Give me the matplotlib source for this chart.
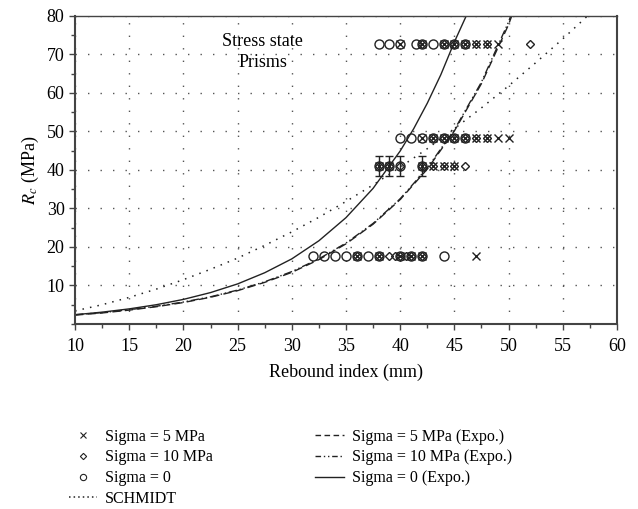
import numpy as np
import matplotlib
matplotlib.use("Agg")
import matplotlib.pyplot as plt
from matplotlib.ticker import MultipleLocator

plt.rcParams['font.family'] = ['Liberation Serif', 'DejaVu Serif']
plt.rcParams['mathtext.fontset'] = 'stix'

# -----------------------
# Data
# -----------------------
# scatter rows: R_c level and rebound indices per stress state
row_levels = [72.7, 48.3, 41.0, 17.7]

s0_x = [[38, 39, 40, 41.5, 42, 43, 44, 45, 46],
        [40, 41, 42, 43, 44, 45, 46],
        [38, 39, 40, 42],
        [32, 33, 34, 35, 36, 37, 38, 40, 41, 42, 44]]
s5_x = [[40, 42, 44, 45, 46, 47, 48, 49],
        [42, 43, 44, 45, 46, 47, 48, 49, 50],
        [38, 39, 42, 43, 44, 45],
        [36, 38, 40, 41, 42, 47]]
s10_x = [[42, 44, 45, 46, 47, 48, 52],
         [43, 44, 45, 46, 47, 48],
         [38, 39, 40, 42, 43, 44, 45, 46],
         [36, 38, 39, 39.5, 40, 40.5, 41, 42]]

# error bars on the 41 MPa row
err_x = [38, 39, 40, 42]
err_y = [41.0, 41.0, 41.0, 41.0]
err_e = [2.6, 2.6, 2.6, 2.6]

# exponential fit curves
fit0_x = [10, 12.5, 15, 17.5, 20, 22.5, 25, 27.5, 30, 32.5, 35, 37.5,
          40, 41.25, 42.5, 43.75, 45, 46.1]
fit0_y = [2.4, 3.07, 3.92, 5.0, 6.38, 8.15, 10.4, 13.3, 16.9, 21.6, 27.6,
          35.2, 44.9, 50.7, 57.3, 64.7, 73.2, 80.0]

fit5_x = [10, 12.5, 15, 17.5, 20, 22.5, 25, 27.5, 30, 32.5, 35, 37.5,
          40, 42.5, 45, 47.5, 50, 50.3]
fit5_y = [2.3, 2.86, 3.6, 4.48, 5.57, 6.94, 8.65, 10.8, 13.4, 16.7, 20.8,
          25.9, 32.3, 40.2, 50.1, 62.4, 77.7, 80.0]

fit10_x = [10, 12.5, 15, 17.5, 20, 22.5, 25, 27.5, 30, 32.5, 35, 37.5,
           40, 42.5, 45, 47.5, 50, 50.2]
fit10_y = [2.4, 2.95, 3.7, 4.6, 5.7, 7.05, 8.8, 10.95, 13.6, 16.9, 21.0,
           26.1, 32.5, 40.5, 50.4, 62.8, 78.4, 80.0]

schmidt_x = [10, 12.5, 15, 17.5, 20, 22.5, 25, 27.5, 30, 32.5, 35, 37.5,
             40, 42.5, 45, 47.5, 50, 52.5, 55, 57.3]
schmidt_y = [3.4, 5.0, 6.9, 9.05, 11.5, 14.2, 17.1, 20.4, 23.9, 27.7, 31.8,
             36.1, 40.7, 45.5, 50.7, 56.1, 61.8, 67.8, 74.0, 80.0]

# -----------------------
# Figure layout
# -----------------------
fig = plt.figure(figsize=(6.38, 5.09), dpi=100)
ax = fig.add_axes([0.1176, 0.3635, 0.8494, 0.6055])

ink = '#222222'

# -----------------------
# Scatter points
# -----------------------
for lvl, xs in zip(row_levels, s5_x):
    ax.plot(xs, [lvl] * len(xs), linestyle='none', marker='x', ms=6,
            mec=ink, mew=1.0)
for lvl, xs in zip(row_levels, s10_x):
    ax.plot(xs, [lvl] * len(xs), linestyle='none', marker='D', ms=4.5,
            mfc='none', mec=ink, mew=1.0)
for lvl, xs in zip(row_levels, s0_x):
    ax.plot(xs, [lvl] * len(xs), linestyle='none', marker='o', ms=6.5,
            mfc='none', mec=ink, mew=1.0)

ax.errorbar(err_x, err_y, yerr=err_e, fmt='none', ecolor=ink,
            elinewidth=1.0, capsize=3, capthick=1.0)

# -----------------------
# Fit curves
# -----------------------
ax.plot(fit5_x, fit5_y, color=ink, lw=1.0, linestyle=(0, (6, 3)))
ax.plot(fit10_x, fit10_y, color=ink, lw=1.0,
        linestyle=(0, (6, 2, 1, 2, 1, 2)))
ax.plot(fit0_x, fit0_y, color=ink, lw=1.0)
ax.plot(schmidt_x, schmidt_y, color=ink, lw=1.1, linestyle=(0, (1, 4)))

# legend proxies
h5 = ax.plot([], [], linestyle='none', marker='x', ms=4, mec=ink,
             mew=0.8, label='Sigma = 5 MPa')[0]
h10 = ax.plot([], [], linestyle='none', marker='D', ms=3.2, mfc='none',
              mec=ink, mew=0.8, label='Sigma = 10 MPa')[0]
h0 = ax.plot([], [], linestyle='none', marker='o', ms=4.5, mfc='none',
             mec=ink, mew=0.8, label='Sigma = 0')[0]
hs = ax.plot([], [], color=ink, lw=1.1, linestyle=(0, (1, 2)),
             label='SCHMIDT')[0]
hf5 = ax.plot([], [], color=ink, lw=1.0, linestyle=(0, (4, 2.5)),
              label='Sigma = 5 MPa (Expo.)')[0]
hf10 = ax.plot([], [], color=ink, lw=1.0,
               linestyle=(0, (4, 2, 1, 2, 1, 2)),
               label='Sigma = 10 MPa (Expo.)')[0]
hf0 = ax.plot([], [], color=ink, lw=1.0,
              label='Sigma = 0 (Expo.)')[0]

# -----------------------
# Axes styling
# -----------------------
ax.set_xlim(10, 60)
ax.set_ylim(0, 80)
ax.xaxis.set_major_locator(MultipleLocator(5))
ax.xaxis.set_minor_locator(MultipleLocator(2.5))
ax.set_yticks(np.arange(10, 81, 10))
ax.yaxis.set_minor_locator(MultipleLocator(5))
ax.tick_params(which='major', direction='out', length=4, width=1.0,
               labelsize=13, color='#444444')
ax.tick_params(axis='x', which='major', pad=6)
ax.tick_params(which='minor', direction='out', length=3, width=1.0,
               color='#444444')
ax.grid(which='major', color='#555555', lw=1.0, linestyle=(0, (1, 8)))
for side in ['left', 'bottom', 'right']:
    ax.spines[side].set_linewidth(1.5)
    ax.spines[side].set_color('#444444')
ax.spines['top'].set_linewidth(1.0)
ax.spines['top'].set_color('#444444')

ax.set_xlabel('Rebound index (mm)', fontsize=13, labelpad=6)
ax.set_ylabel(r'$R_c$ (MPa)', fontsize=13, labelpad=4)

ax.text(27.3, 70.6, 'Stress state\nPrisms', ha='center', va='center',
        fontsize=13, linespacing=1.25)

fig.legend(handles=[h5, h10, h0, hs, hf5, hf10, hf0], ncol=2,
           loc='upper left', bbox_to_anchor=(0.09, 0.18), frameon=False,
           fontsize=11.5, handlelength=1.8, handletextpad=0.5,
           columnspacing=6.4, labelspacing=0.3, borderpad=0.2)

fig.savefig('out.png', dpi=100)
